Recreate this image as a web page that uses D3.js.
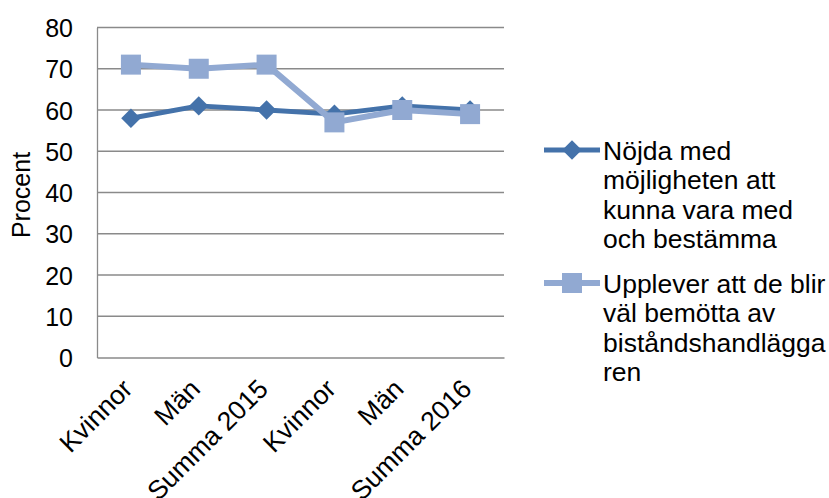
<!DOCTYPE html>
<html>
<head>
<meta charset="utf-8">
<script src="https://cdn.jsdelivr.net/npm/d3@7"></script>
<style>
  body { margin: 0; background: #fff; }
  svg { display: block; font-family: "Liberation Sans", Arial, sans-serif; }
</style>
</head>
<body>
<svg id="chart" width="829" height="498"></svg>
<script>
// Categories along the x axis (two survey years, each split by gender plus total)
const categories = ["Kvinnor", "Män", "Summa 2015", "Kvinnor", "Män", "Summa 2016"];
// Share (%) satisfied with being able to take part and decide
const nojda = [58, 61, 60, 59, 61, 60];
// Share (%) who feel well treated by the case officer
const bemotta = [71, 70, 71, 57, 60, 59];
const yTicks = [0, 10, 20, 30, 40, 50, 60, 70, 80];

const series = [
  { name: ["Nöjda med", "möjligheten att", "kunna vara med", "och bestämma"], values: nojda,
    color: "#4472AA", width: 5, marker: "diamond" },
  { name: ["Upplever att de blir", "väl bemötta av", "biståndshandlägga", "ren"], values: bemotta,
    color: "#91A9D2", width: 6, marker: "square" }
];

const FONT = "Liberation Sans, Arial, sans-serif";
const FS = 25;

const svg = d3.select("#chart");
const m = { left: 97, top: 27.5, right: 504, bottom: 357.5 };

const x = d3.scaleBand().domain(d3.range(categories.length)).range([m.left, m.right]);
const y = d3.scaleLinear().domain([0, 80]).range([m.bottom, m.top]);
const cx = i => x(i) + x.bandwidth() / 2;

// Horizontal gridlines
svg.append("g")
  .selectAll("line").data(yTicks.filter(t => t > 0)).join("line")
  .attr("x1", m.left).attr("x2", m.right)
  .attr("y1", d => y(d)).attr("y2", d => y(d))
  .attr("stroke", "#8a8a8a").attr("stroke-width", 1.3);

// Y axis
const yAxis = svg.append("g").attr("transform", `translate(${m.left},0)`)
  .call(d3.axisLeft(y).tickValues(yTicks).tickSize(0).tickPadding(24));
yAxis.select(".domain").attr("stroke", "#8a8a8a").attr("stroke-width", 1.3);
yAxis.selectAll("text").attr("font-size", FS).attr("fill", "#000")
  .attr("font-family", FONT).attr("dy", "0.36em");

// X axis with rotated category labels
const xAxis = svg.append("g").attr("transform", `translate(0,${m.bottom})`)
  .call(d3.axisBottom(x).tickFormat(i => categories[i]).tickSize(0));
xAxis.select(".domain").attr("stroke", "#8a8a8a").attr("stroke-width", 1.3);
xAxis.selectAll("text")
  .attr("font-size", 26.5).attr("fill", "#000")
  .attr("font-family", FONT)
  .attr("text-anchor", "end")
  .attr("dy", null).attr("y", null)
  .attr("transform", "translate(3,33) rotate(-45)");

// Y axis title
svg.append("text")
  .attr("transform", "translate(30,195) rotate(-90)")
  .attr("text-anchor", "middle")
  .attr("font-size", FS)
  .attr("font-family", FONT)
  .text("Procent");

function drawMarker(g, s, px, py) {
  if (s.marker === "diamond") {
    g.append("path")
      .attr("d", d3.symbol().type(d3.symbolSquare).size(190)())
      .attr("transform", `translate(${px},${py}) rotate(45)`)
      .attr("fill", s.color);
  } else {
    const w = 20;
    g.append("rect")
      .attr("x", px - w / 2).attr("y", py - w / 2)
      .attr("width", w).attr("height", w)
      .attr("fill", s.color);
  }
}

// Series lines and markers
const line = d3.line().x((d, i) => cx(i)).y(d => y(d));
series.forEach(s => {
  const g = svg.append("g");
  g.append("path").datum(s.values)
    .attr("d", line).attr("fill", "none")
    .attr("stroke", s.color).attr("stroke-width", s.width)
    .attr("stroke-linejoin", "round");
  s.values.forEach((v, i) => drawMarker(g, s, cx(i), y(v)));
});

// Legend
const legendY = [150, 283];
series.forEach((s, k) => {
  const g = svg.append("g");
  const ly = legendY[k];
  g.append("line").attr("x1", 544).attr("x2", 600).attr("y1", ly).attr("y2", ly)
    .attr("stroke", s.color).attr("stroke-width", s.width);
  drawMarker(g, s, 572, ly);
  const t = g.append("text").attr("font-size", 26.5).attr("fill", "#000")
    .attr("font-family", FONT);
  s.name.forEach((ln, j) => {
    t.append("tspan").attr("x", 603).attr("y", ly + 9.5 + j * 29.5).text(ln);
  });
});
</script>
</body>
</html>
